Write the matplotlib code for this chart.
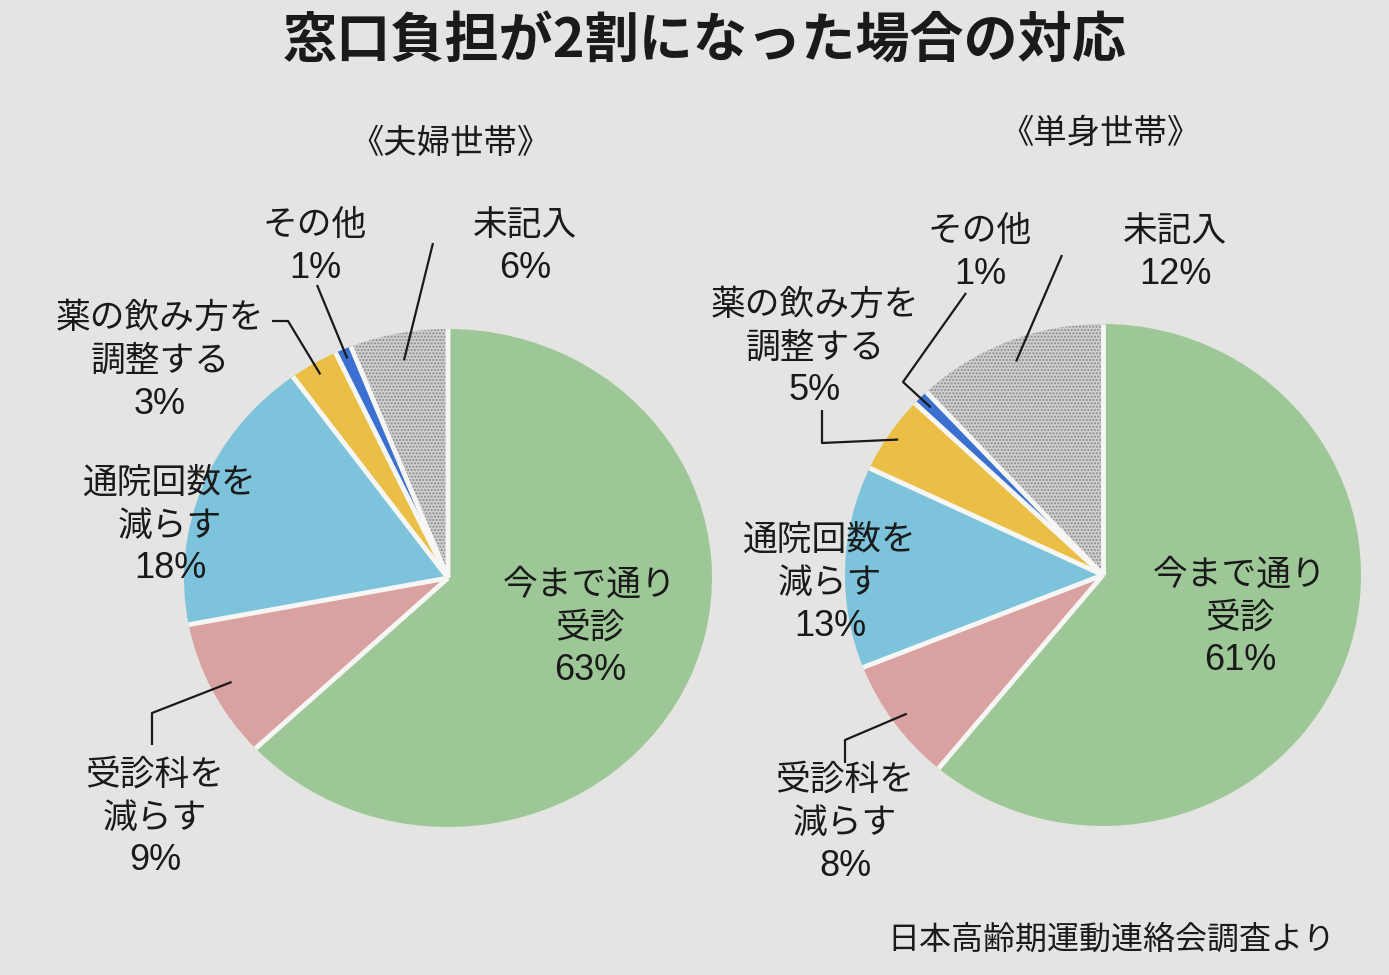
import matplotlib
matplotlib.use("Agg")
import matplotlib.pyplot as plt
from matplotlib.patches import Wedge
import numpy as np

plt.rcParams['font.family'] = ['Noto Sans CJK JP', 'DejaVu Sans']

W, H = 1389, 975

# ---------------- data ----------------
title = "窓口負担が2割になった場合の対応"
source = "日本高齢期運動連絡会調査より"
categories = ["今まで通り\n受診", "受診科を\n減らす", "通院回数を\n減らす",
              "薬の飲み方を\n調整する", "その他", "未記入"]
couple_title = "《夫婦世帯》"
couple_values = [63, 9, 18, 3, 1, 6]
single_title = "《単身世帯》"
single_values = [61, 8, 13, 5, 1, 12]

# ---------------- style ----------------
colors = ['#9dc796', '#d9a1a0', '#7ec3dc', '#ebbf45', '#3b6fd0', '#cfcfcd']
bg = '#e4e4e2'
sep = '#f6f6f4'
hatch_idx = 5

layouts = [
    dict(values=couple_values, name=couple_title, name_pos=(450, 143),
         center=(448, 578), rx=264, ry=249,
         label_pos=[(590, 585), (155, 775), (170, 483), (160, 318), (315, 226), (525, 226)],
         leaders={1: ([(152, 745), (152, 713)], 0.92),
                  3: ([(272, 321), (288, 321)], 0.95),
                  4: ([(317, 285)], 0.96),
                  5: ([(433, 243)], 0.89)}),
    dict(values=single_values, name=single_title, name_pos=(1100, 133),
         center=(1103, 575), rx=258, ry=251,
         label_pos=[(1240, 575), (845, 780), (830, 540), (815, 305), (980, 232), (1175, 232)],
         leaders={1: ([(845, 763), (845, 740)], 0.94),
                  3: ([(822, 410), (822, 443)], 0.96),
                  4: ([(966, 293), (903, 382)], 0.945),
                  5: ([(1062, 255)], 0.915)}),
]

fig = plt.figure(figsize=(W / 100, H / 100), dpi=100, facecolor=bg)

overlay = fig.add_axes([0, 0, 1, 1], facecolor='none', zorder=5)
overlay.set_xlim(0, W)
overlay.set_ylim(H, 0)
overlay.axis('off')

overlay.text(705, 42, title, ha='center', va='center', fontsize=39,
             fontweight='bold', color='#1a1a1a')
overlay.text(1335, 940, source, ha='right', va='center', fontsize=23, color='#1a1a1a')

pitch = 43
for lay in layouts:
    cx, cy = lay['center']
    rx, ry = lay['rx'], lay['ry']
    vals = lay['values']
    ax = fig.add_axes([(cx - rx) / W, 1 - (cy + ry) / H, 2 * rx / W, 2 * ry / H])
    wedges, _ = ax.pie(vals, colors=colors, startangle=90, counterclock=False,
                       radius=1, wedgeprops=dict(linewidth=0))
    ax.set_aspect('auto')
    ax.set_xlim(-1, 1)
    ax.set_ylim(-1, 1)
    ax.axis('off')
    for w in wedges:
        w.set_clip_on(False)
    # dotted texture on the 未記入 slice
    g = wedges[hatch_idx]
    ax.add_patch(Wedge(g.center, g.r, g.theta1, g.theta2, facecolor='none',
                       edgecolor='#8a8a8a', hatch='.....', linewidth=0, clip_on=False))
    # white radial separators between slices
    for w in wedges:
        t = np.deg2rad(w.theta1)
        ax.plot([0, np.cos(t)], [0, np.sin(t)], color=sep, linewidth=3.5,
                solid_capstyle='butt', clip_on=False)

    overlay.text(lay['name_pos'][0], lay['name_pos'][1], lay['name'], ha='center',
                 va='center', fontsize=24, color='#1a1a1a')

    total = sum(vals)
    cum = np.cumsum([0] + vals[:-1])
    for i, (cat, v) in enumerate(zip(categories, vals)):
        lines = cat.split('\n')
        x0, y0 = lay['label_pos'][i]
        for j, t in enumerate(lines):
            overlay.text(x0, y0 + j * pitch, t, ha='center', va='center',
                         fontsize=25, color='#1a1a1a')
        overlay.text(x0, y0 + len(lines) * pitch, f"{v}%", ha='center', va='center',
                     fontsize=26, color='#1a1a1a',
                     family=['Liberation Sans', 'DejaVu Sans'])
        if i in lay['leaders']:
            pts, rf = lay['leaders'][i]
            a = np.deg2rad(90 - 360 * (cum[i] + v / 2) / total)
            px = cx + rx * rf * np.cos(a)
            py = cy - ry * rf * np.sin(a)
            xs = [p[0] for p in pts] + [px]
            ys = [p[1] for p in pts] + [py]
            overlay.plot(xs, ys, color='#1a1a1a', linewidth=1.6, solid_capstyle='butt')

fig.savefig('out.png', dpi=100, facecolor=bg)
